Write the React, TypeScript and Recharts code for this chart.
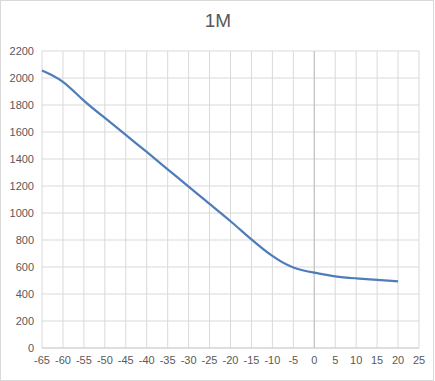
import { LineChart, Line, XAxis, YAxis, CartesianGrid, ReferenceLine } from 'recharts'

// temperature-like x values and readings
const xValues = [-65, -60, -55, -50, -45, -40, -35, -30, -25, -20, -15, -10, -5, 0, 5, 10, 15, 20]
const yValues = [2056, 1972, 1832, 1704, 1578, 1452, 1324, 1195, 1067, 939, 805, 682, 596, 558, 531, 516, 504, 494]

const xTicks = [-65, -60, -55, -50, -45, -40, -35, -30, -25, -20, -15, -10, -5, 0, 5, 10, 15, 20, 25]
const yTicks = [0, 200, 400, 600, 800, 1000, 1200, 1400, 1600, 1800, 2000, 2200]

const data = xValues.map((x, i) => ({ x, y: yValues[i] }))

const FONT = "'Liberation Sans', Arial, sans-serif"
const TEXT = '#595959'

export default function App() {
  return (
    <div
      style={{
        position: 'absolute',
        left: 0,
        top: 0,
        width: 434,
        height: 381,
        boxSizing: 'border-box',
        border: '1px solid #d9d9d9',
        background: '#fff',
        fontFamily: FONT,
      }}
    >
      <div
        style={{
          position: 'absolute',
          top: 9,
          left: 0,
          width: 434,
          textAlign: 'center',
          fontSize: 19,
          color: TEXT,
        }}
      >
        1M
      </div>
      <div style={{ position: 'absolute', left: -1, top: -1 }}>
        <LineChart width={435} height={381} data={data} margin={{ top: 51, right: 16, bottom: 13, left: 0 }}>
          <CartesianGrid stroke="#d9d9d9" strokeWidth={1} />
          <XAxis
            dataKey="x"
            type="number"
            domain={[-65, 25]}
            ticks={xTicks}
            interval={0}
            tickLine={false}
            axisLine={{ stroke: '#d0d0d0' }}
            tick={{ fontSize: 11, fill: TEXT, fontFamily: FONT }}
            height={20}
          />
          <YAxis
            type="number"
            domain={[0, 2200]}
            ticks={yTicks}
            interval={0}
            tickLine={false}
            axisLine={false}
            tick={{ fontSize: 11, fill: TEXT, fontFamily: FONT }}
            width={42}
          />
          <ReferenceLine x={0} stroke="#bfbfbf" strokeWidth={1} />
          <Line
            type="natural"
            dataKey="y"
            stroke="#4f7dba"
            strokeWidth={2.25}
            dot={false}
            isAnimationActive={false}
          />
        </LineChart>
      </div>
    </div>
  )
}
